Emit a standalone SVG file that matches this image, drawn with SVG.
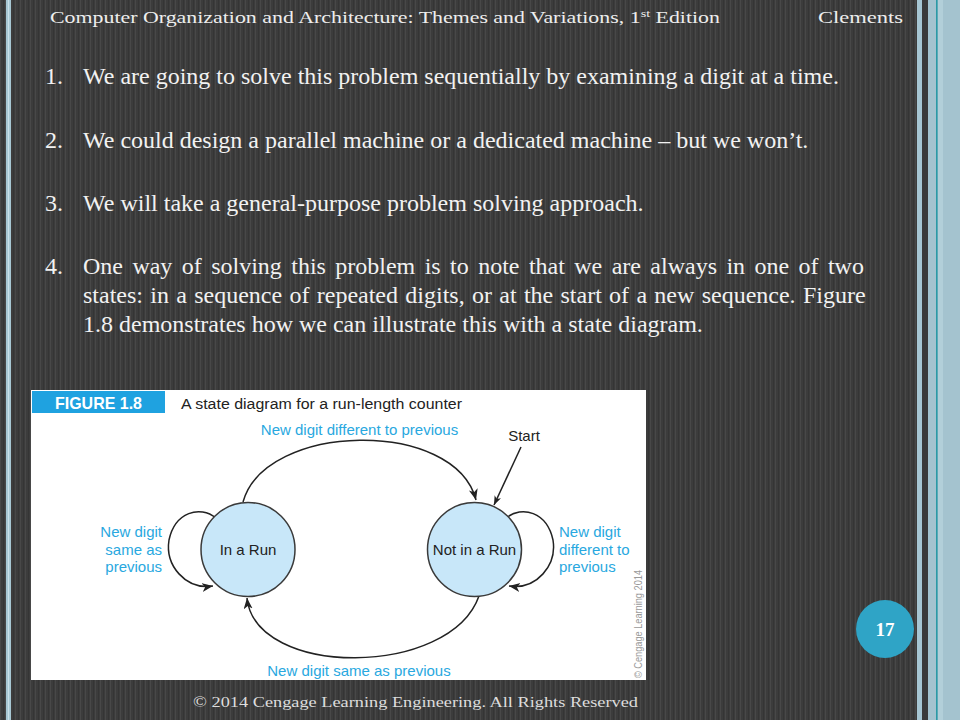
<svg xmlns="http://www.w3.org/2000/svg" width="960" height="720" viewBox="0 0 960 720">
<defs>
<pattern id="stripes" x="0" y="0" width="5" height="10" patternUnits="userSpaceOnUse">
<rect width="5" height="10" fill="#3c3c3c"/>
<rect x="0" width="1" height="10" fill="#484848"/>
<rect x="3" width="1" height="10" fill="#353535"/>
</pattern>
<marker id="ah" markerUnits="userSpaceOnUse" markerWidth="12" markerHeight="10" refX="11" refY="4.5" orient="auto">
<path d="M0,0 L11,4.5 L0,9 L3,4.5 z" fill="#222"/>
</marker>
<marker id="ahs" markerUnits="userSpaceOnUse" markerWidth="10" markerHeight="8" refX="9" refY="3.5" orient="auto">
<path d="M0,0 L9,3.5 L0,7 L2.5,3.5 z" fill="#222"/>
</marker>
</defs>
<style>
.body{font-family:"Liberation Serif","Times New Roman",serif;font-size:24px;fill:#f2f2f2}
.hdr{font-family:"Liberation Serif","Times New Roman",serif;font-size:17px;fill:#eeeeee}
.foot{font-family:"Liberation Serif","Times New Roman",serif;font-size:15.5px;fill:#dddddd}
.lbl{font-family:"Liberation Sans",Arial,sans-serif;font-size:15px;fill:#29a8e0}
.st{font-family:"Liberation Sans",Arial,sans-serif;font-size:15px;fill:#222}
.state{fill:#c8e7f9;stroke:#3a3a3a;stroke-width:1.5}
.arc{fill:none;stroke:#222;stroke-width:1.5}
</style>
<rect width="960" height="720" fill="url(#stripes)"/>
<!-- borders -->
<rect x="6" y="0" width="5" height="720" fill="#a7c7d3"/>
<rect x="8" y="0" width="1" height="720" fill="#c9e0e8"/>
<rect x="917" y="0" width="5" height="720" fill="#a6c6d3"/>
<rect x="922" y="0" width="6" height="720" fill="#3a3a3a"/>
<rect x="928" y="0" width="32" height="720" fill="#a4c3cf"/>
<rect x="936" y="0" width="1.6" height="720" fill="#2a9aa6"/>
<rect x="938" y="0" width="5" height="720" fill="#b2cfd9"/>

<!-- header -->
<text class="hdr" x="50" y="23" textLength="670" lengthAdjust="spacingAndGlyphs">Computer Organization and Architecture: Themes and Variations, 1<tspan font-size="11" dy="-6">st</tspan><tspan dy="6"> Edition</tspan></text>
<text class="hdr" x="818" y="23" textLength="85" lengthAdjust="spacingAndGlyphs">Clements</text>

<!-- body -->
<g id="list">
<text class="body" x="45" y="84">1.</text>
<text class="body" x="83" y="84">We are going to solve this problem sequentially by examining a digit at a time.</text>
<text class="body" x="45" y="147.5">2.</text>
<text class="body" x="83" y="147.5">We could design a parallel machine or a dedicated machine – but we won’t.</text>
<text class="body" x="45" y="211">3.</text>
<text class="body" x="83" y="211">We will take a general-purpose problem solving approach.</text>
<text class="body" x="45" y="274">4.</text>
<text class="body" x="83" y="274" word-spacing="3.4">One way of solving this problem is to note that we are always in one of two</text>
<text class="body" x="83" y="303" word-spacing="1.3">states: in a sequence of repeated digits, or at the start of a new sequence. Figure</text>
<text class="body" x="83" y="332">1.8 demonstrates how we can illustrate this with a state diagram.</text>
</g>

<!-- figure -->
<g id="figure">
<rect x="31" y="390" width="615" height="290" fill="#ffffff"/>
<rect x="32" y="391" width="133" height="22" fill="#1fa2e0"/>
<text x="55" y="409" font-family="Liberation Sans,Arial,sans-serif" font-size="17" font-weight="bold" fill="#ffffff" textLength="87" lengthAdjust="spacingAndGlyphs">FIGURE 1.8</text>
<text x="181" y="409" font-family="Liberation Sans,Arial,sans-serif" font-size="15.5" fill="#222" textLength="281" lengthAdjust="spacingAndGlyphs">A state diagram for a run-length counter</text>
<text transform="translate(642,678) rotate(-90)" font-family="Liberation Sans,Arial,sans-serif" font-size="10" fill="#9a9a9a" textLength="108" lengthAdjust="spacingAndGlyphs">© Cengage Learning 2014</text>
</g>

<g id="connectors">
<path class="arc" d="M243,502 C265,422 455,418 476,500" marker-end="url(#ah)"/>
<path class="arc" d="M479,596 C450,678 255,678 247,598" marker-end="url(#ah)"/>
<path class="arc" d="M216,518 C200,505 175,512 169,540 C165,565 185,590 213,586" marker-end="url(#ah)"/>
<path class="arc" d="M506,518 C522,505 547,512 553,540 C557,565 537,590 509,586" marker-end="url(#ah)"/>
<path class="arc" d="M521,447 L494,505" stroke-width="1" marker-end="url(#ahs)"/>
</g>

<g id="in-a-run">
<circle class="state" cx="248" cy="549.5" r="47"/>
<text class="st" x="248" y="554.5" text-anchor="middle">In a Run</text>
</g>
<g id="not-in-a-run">
<circle class="state" cx="474.5" cy="549.5" r="47"/>
<text class="st" x="474.5" y="554.5" text-anchor="middle">Not in a Run</text>
</g>
<g id="labels">
<text class="lbl" x="359.5" y="435" text-anchor="middle">New digit different to previous</text>
<text class="st" x="524" y="441" text-anchor="middle">Start</text>
<text class="lbl" x="162" y="537" text-anchor="end">New digit</text>
<text class="lbl" x="162" y="555" text-anchor="end">same as</text>
<text class="lbl" x="162" y="572" text-anchor="end">previous</text>
<text class="lbl" x="559" y="537">New digit</text>
<text class="lbl" x="559" y="555">different to</text>
<text class="lbl" x="559" y="572">previous</text>
<text class="lbl" x="359" y="676" text-anchor="middle">New digit same as previous</text>
</g>

<!-- page number -->
<g id="page">
<circle cx="885" cy="629" r="29" fill="#2fa4c6"/>
<text x="885" y="636" text-anchor="middle" font-family="Liberation Serif,serif" font-size="19" font-weight="bold" fill="#ffffff">17</text>
</g>

<text class="foot" x="193" y="707" textLength="445" lengthAdjust="spacingAndGlyphs">© 2014 Cengage Learning Engineering. All Rights Reserved</text>
</svg>
